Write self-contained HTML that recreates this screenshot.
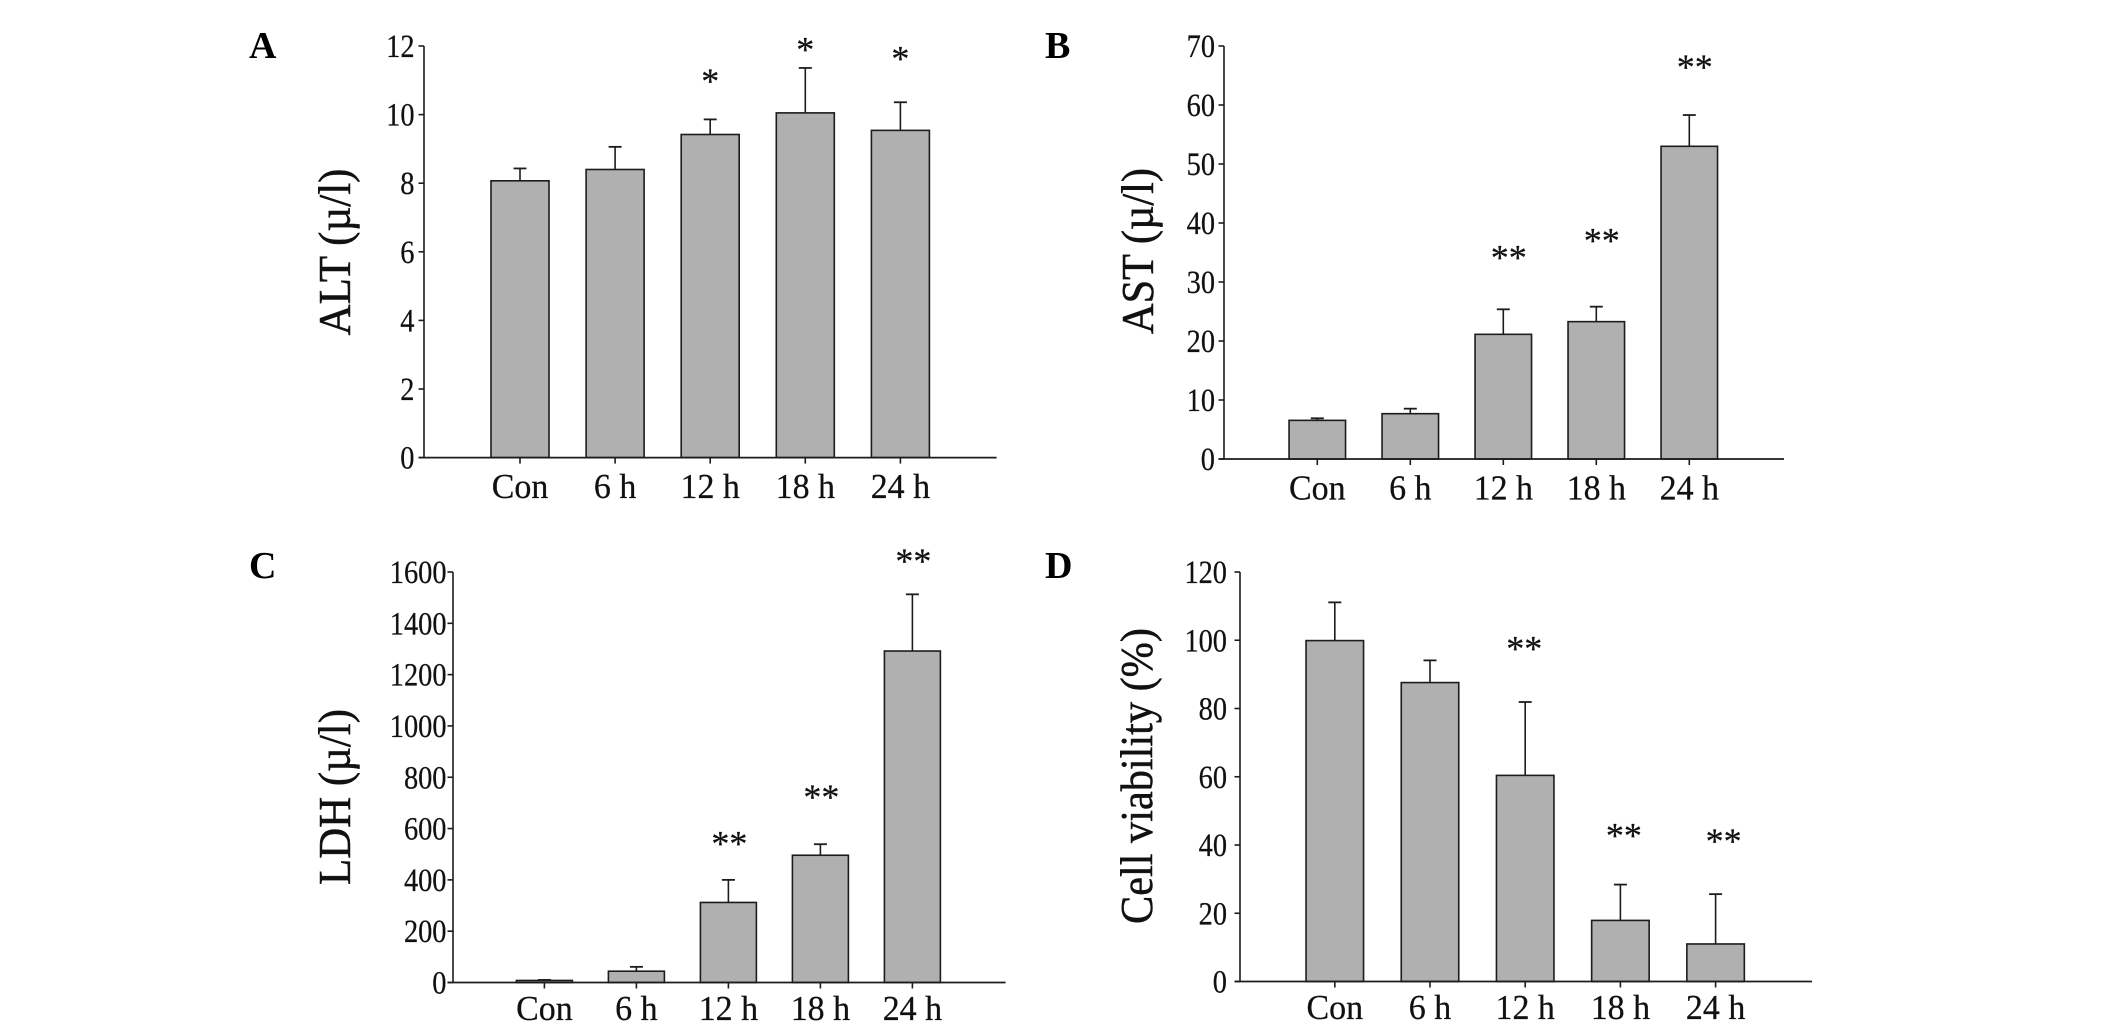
<!DOCTYPE html>
<html lang="en">
<head>
<meta charset="utf-8">
<title>Liver enzyme and cell viability bar charts</title>
<style>
  html, body { margin: 0; padding: 0; background: #fff; }
  svg { display: block; }
  text { font-family: "Liberation Serif", "Times New Roman", serif; fill: #111; }
  .panel-letter { font-size: 38px; font-weight: bold; fill: #000; }
  .y-title { font-size: 46px; stroke: #111; stroke-width: 0.5px; }
  .tick-text { stroke: #111; stroke-width: 0.25px; }
</style>
</head>
<body>
<svg id="figure" xmlns="http://www.w3.org/2000/svg" width="2126" height="1031" viewBox="0 0 2126 1031">
  <rect x="0" y="0" width="2126" height="1031" fill="#fff"/>
  <text class="panel-letter" x="249" y="58">A</text>
  <text class="panel-letter" x="1045" y="58">B</text>
  <text class="panel-letter" x="249" y="578">C</text>
  <text class="panel-letter" x="1045" y="578">D</text>
  <text class="y-title" text-anchor="middle" textLength="167" lengthAdjust="spacingAndGlyphs" transform="translate(350,252) rotate(-90)">ALT (µ/l)</text>
  <text class="y-title" text-anchor="middle" textLength="166" lengthAdjust="spacingAndGlyphs" transform="translate(1153,251) rotate(-90)">AST (µ/l)</text>
  <text class="y-title" text-anchor="middle" textLength="176" lengthAdjust="spacingAndGlyphs" transform="translate(350,797) rotate(-90)">LDH (µ/l)</text>
  <text class="y-title" text-anchor="middle" textLength="296" lengthAdjust="spacingAndGlyphs" transform="translate(1152,776) rotate(-90)">Cell viability (%)</text>
</svg>
<script>
// Shared categories
var categories = ['Con', '6 h', '12 h', '18 h', '24 h'];

// Panel A: ALT
var altTicks = [0, 2, 4, 6, 8, 10, 12];
var altValues = [8.07, 8.40, 9.42, 10.05, 9.54];
var altErrorTops = [8.43, 9.06, 9.86, 11.36, 10.36];
var altStars = ['', '', '*', '*', '*'];
var altStarLevels = [0, 0, 11.1, 12.02, 11.75];

// Panel B: AST
var astTicks = [0, 10, 20, 30, 40, 50, 60, 70];
var astValues = [6.55, 7.68, 21.13, 23.28, 53.0];
var astErrorTops = [6.9, 8.53, 25.37, 25.82, 58.3];
var astStars = ['', '', '**', '**', '**'];
var astStarLevels = [0, 0, 34.8, 37.7, 67.1];

// Panel C: LDH
var ldhTicks = [0, 200, 400, 600, 800, 1000, 1200, 1400, 1600];
var ldhValues = [8, 44, 312, 496, 1292];
var ldhErrorTops = [10, 61, 400, 539, 1513];
var ldhStars = ['', '', '**', '**', '**'];
var ldhStarLevels = [0, 0, 557, 738, 1658];

// Panel D: Cell viability
var viaTicks = [0, 20, 40, 60, 80, 100, 120];
var viaValues = [99.9, 87.6, 60.4, 17.9, 11.0];
var viaErrorTops = [111.1, 94.1, 81.9, 28.4, 25.6];
var viaStars = ['', '', '**', '**', '**'];
var viaStarLevels = [0, 0, 98.8, 44, 42.4];

var NS = 'http://www.w3.org/2000/svg';
var INK = '#1c1c1c';
var figure = document.getElementById('figure');

function make(parent, tag, attrs, content) {
  var node = document.createElementNS(NS, tag);
  for (var key in attrs) { node.setAttribute(key, attrs[key]); }
  if (content !== undefined) { node.textContent = content; }
  parent.appendChild(node);
  return node;
}

function drawPanel(cfg) {
  var group = make(figure, 'g', {});
  
  

  var maxTick = cfg.ticks[cfg.ticks.length - 1];
  function yScale(v) { return cfg.y0 - (v / maxTick) * (cfg.y0 - cfg.yTop); }
  function xScale(i) { return cfg.x0 + i * cfg.step; }

  // bars and error bars
  categories.forEach(function (cat, i) {
    var cx = xScale(i);
    var top = yScale(cfg.values[i]);
    var errTop = yScale(cfg.errors[i]);

    var stem = make(group, 'line', { x1: cx, x2: cx, y1: top, y2: errTop, stroke: INK, 'stroke-width': 1.6 });
    
    

    var cap = make(group, 'line', { x1: cx - 6.5, x2: cx + 6.5, y1: errTop, y2: errTop, stroke: INK, 'stroke-width': 1.8 });
    
    

    var bar = make(group, 'rect', { x: cx - cfg.barWidth / 2, y: top, width: cfg.barWidth, height: cfg.y0 - top, fill: '#b0b0b0', stroke: INK, 'stroke-width': 1.6 });
    
    

    var xTick = make(group, 'line', { x1: cx, x2: cx, y1: cfg.y0, y2: cfg.y0 + 6, stroke: INK, 'stroke-width': 1.6 });
    
    

    var xLabel = make(group, 'text', { 'class': 'tick-text', 'text-anchor': 'middle', 'font-size': 35, transform: 'translate(' + cx + ',' + (cfg.y0 + cfg.labelGap) + ') scale(0.97,1)' }, cat);
    
    

    if (cfg.stars[i]) {
      var star = make(group, 'text', { 'class': 'tick-text', 'text-anchor': 'middle', 'font-size': 36, x: cx + cfg.starNudge + (cfg.starFan * (i - 3)), y: yScale(cfg.starLevels[i]) + 16 }, cfg.stars[i]);
      
      
    }
  });

  // y axis
  var yAxis = make(group, 'line', { x1: cfg.axisX, x2: cfg.axisX, y1: cfg.yTop, y2: cfg.y0, stroke: INK, 'stroke-width': 1.6 });
  
  

  // x axis
  var xAxis = make(group, 'line', { x1: cfg.axisX - 5.5, x2: cfg.xEnd, y1: cfg.y0, y2: cfg.y0, stroke: INK, 'stroke-width': 1.7 });
  
  

  cfg.ticks.forEach(function (t) {
    var ty = yScale(t);
    var yTick = make(group, 'line', { x1: cfg.axisX - 5.5, x2: cfg.axisX, y1: ty, y2: ty, stroke: INK, 'stroke-width': 1.6 });
    
    

    var yLabel = make(group, 'text', { 'class': 'tick-text', 'text-anchor': 'end', 'font-size': 33, transform: 'translate(' + (cfg.axisX - cfg.tickGap) + ',' + (ty + 11) + ') scale(0.86,1)' }, String(t));
    
    
  });
}

drawPanel({ id: 'alt', ticks: altTicks, values: altValues, errors: altErrorTops, stars: altStars, starLevels: altStarLevels,
  axisX: 424, xEnd: 996.6, y0: 457.6, yTop: 46, x0: 520, step: 95.1, barWidth: 58, starNudge: 0, starFan: 0, labelGap: 40.4, tickGap: 9.5 });
drawPanel({ id: 'ast', ticks: astTicks, values: astValues, errors: astErrorTops, stars: astStars, starLevels: astStarLevels,
  axisX: 1224, xEnd: 1784, y0: 459, yTop: 46, x0: 1317.3, step: 93, barWidth: 56.5, starNudge: 5.5, starFan: 0, labelGap: 40.3, tickGap: 9 });
drawPanel({ id: 'ldh', ticks: ldhTicks, values: ldhValues, errors: ldhErrorTops, stars: ldhStars, starLevels: ldhStarLevels,
  axisX: 453, xEnd: 1005.6, y0: 982.5, yTop: 572, x0: 544.4, step: 92, barWidth: 56, starNudge: 1, starFan: 0, labelGap: 37.5, tickGap: 6.5 });
drawPanel({ id: 'viability', ticks: viaTicks, values: viaValues, errors: viaErrorTops, stars: viaStars, starLevels: viaStarLevels,
  axisX: 1240, xEnd: 1812, y0: 981.5, yTop: 572, x0: 1334.8, step: 95.2, barWidth: 57.5, starNudge: 3.5, starFan: 4.5, labelGap: 37.5, tickGap: 13 });
</script>
</body>
</html>
